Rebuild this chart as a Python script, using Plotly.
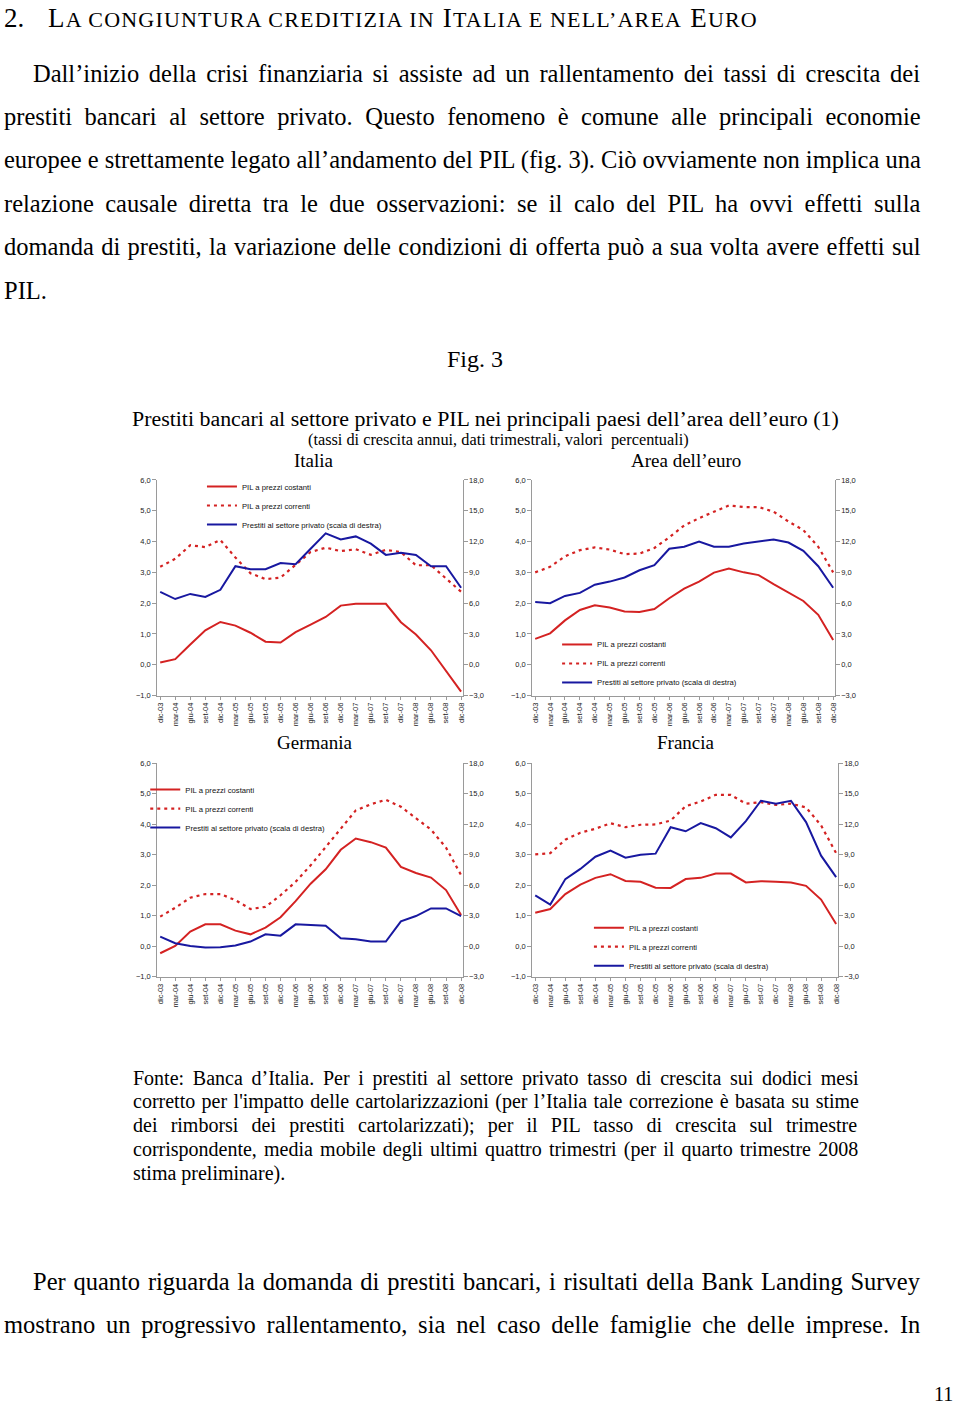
import plotly.graph_objects as go

W, H = 960, 1409

trimestri = ["dic-03", "mar-04", "giu-04", "set-04", "dic-04", "mar-05", "giu-05",
             "set-05", "dic-05", "mar-06", "giu-06", "set-06", "dic-06", "mar-07",
             "giu-07", "set-07", "dic-07", "mar-08", "giu-08", "set-08", "dic-08"]

# Italia
ita_pil_cost = [0.07, 0.18, 0.66, 1.12, 1.39, 1.27, 1.04, 0.75, 0.72, 1.06, 1.30,
                1.55, 1.92, 1.98, 1.98, 1.98, 1.38, 0.98, 0.47, -0.19, -0.87]
ita_pil_corr = [3.18, 3.44, 3.88, 3.82, 4.05, 3.48, 2.97, 2.78, 2.83, 3.26, 3.66,
                3.80, 3.69, 3.75, 3.57, 3.73, 3.66, 3.23, 3.23, 2.80, 2.37]
ita_prestiti = [7.1, 6.4, 6.9, 6.6, 7.3, 9.6, 9.3, 9.3, 9.9, 9.8, 11.3,
                12.8, 12.2, 12.5, 11.8, 10.7, 10.9, 10.7, 9.6, 9.6, 7.5]

# Area dell'euro
eur_pil_cost = [0.84, 1.02, 1.44, 1.78, 1.93, 1.86, 1.73, 1.71, 1.81, 2.16, 2.47,
                2.70, 2.99, 3.12, 3.00, 2.91, 2.62, 2.34, 2.07, 1.62, 0.80]
eur_pil_corr = [3.00, 3.18, 3.52, 3.72, 3.81, 3.74, 3.59, 3.61, 3.79, 4.14, 4.52,
                4.76, 4.97, 5.17, 5.12, 5.12, 4.97, 4.65, 4.37, 3.83, 3.00]
eur_prestiti = [6.1, 6.0, 6.7, 7.0, 7.8, 8.1, 8.5, 9.2, 9.7, 11.3, 11.5,
                12.0, 11.5, 11.5, 11.8, 12.0, 12.2, 11.9, 11.1, 9.6, 7.5]

# Germania
ger_pil_cost = [-0.23, 0.01, 0.48, 0.72, 0.72, 0.51, 0.39, 0.61, 0.95, 1.48, 2.05,
                2.52, 3.16, 3.53, 3.41, 3.23, 2.60, 2.40, 2.25, 1.84, 1.02]
ger_pil_corr = [0.97, 1.26, 1.59, 1.71, 1.71, 1.51, 1.22, 1.29, 1.67, 2.11, 2.65,
                3.25, 3.85, 4.45, 4.65, 4.80, 4.57, 4.18, 3.82, 3.23, 2.33]
ger_prestiti = [0.95, 0.30, 0.03, -0.13, -0.10, 0.07, 0.46, 1.17, 1.04, 2.15, 2.09,
                2.02, 0.78, 0.68, 0.46, 0.46, 2.45, 2.97, 3.72, 3.72, 2.97]

# Francia
fra_pil_cost = [1.10, 1.22, 1.71, 2.02, 2.24, 2.36, 2.14, 2.11, 1.92, 1.91, 2.20,
                2.24, 2.38, 2.38, 2.09, 2.13, 2.11, 2.09, 1.98, 1.53, 0.73]
fra_pil_corr = [3.01, 3.05, 3.49, 3.72, 3.85, 4.03, 3.90, 3.98, 3.99, 4.12, 4.59,
                4.74, 4.96, 4.96, 4.67, 4.72, 4.63, 4.67, 4.55, 3.96, 3.05]
fra_prestiti = [5.0, 4.1, 6.6, 7.6, 8.8, 9.4, 8.7, 9.0, 9.1, 11.7, 11.3,
                12.1, 11.6, 10.7, 12.3, 14.3, 14.0, 14.3, 12.2, 8.9, 6.8]

nomi = ["PIL a prezzi costanti", "PIL a prezzi correnti",
        "Prestiti al settore privato (scala di destra)"]

ROSSO = "#d42222"
BLU = "#1818a0"
GRIGIO = "#9a9a9a"
SERIF = "Liberation Serif, Times New Roman, serif"
SANS = "Liberation Sans Narrow, Arial Narrow, Liberation Sans, Arial, sans-serif"


def px_x(v):
    return v / W


def px_y(v):
    return 1 - v / H


# dati, dominio x (px), dominio y (px), legenda (x, y top) e riquadro bianco della legenda
pannelli = [
    ((ita_pil_cost, ita_pil_corr, ita_prestiti), (156, 463), (479, 696), (201, 471), (212, 393, 485, 530)),
    ((eur_pil_cost, eur_pil_corr, eur_prestiti), (533, 837), (479, 696), (558, 630), (568, 750, 645, 690)),
    ((ger_pil_cost, ger_pil_corr, ger_prestiti), (156, 463), (764, 979), (144, 776), (157, 330, 780, 840)),
    ((fra_pil_cost, fra_pil_corr, fra_prestiti), (533, 840), (764, 979), (590, 915), (588, 797, 925, 972)),
]

fig = go.Figure()
layout = {}
tick_font = dict(family=SANS, size=7.5, color="#222")

for i, (serie, dx, dy, leg, box) in enumerate(pannelli, start=1):
    xa = "x" if i == 1 else f"x{i}"
    yl = "y" if i == 1 else f"y{2 * i - 1}"
    yr = f"y{2 * i}"
    lg = "legend" if i == 1 else f"legend{i}"
    cost, corr, prest = serie

    fig.add_trace(go.Scatter(x=trimestri, y=cost, name=nomi[0], mode="lines",
                             line=dict(color=ROSSO, width=2), xaxis=xa, yaxis=yl, legend=lg))
    fig.add_trace(go.Scatter(x=trimestri, y=corr, name=nomi[1], mode="lines",
                             line=dict(color=ROSSO, width=2.2, dash="3px,4px"),
                             xaxis=xa, yaxis=yl, legend=lg))
    fig.add_trace(go.Scatter(x=trimestri, y=prest, name=nomi[2], mode="lines",
                             line=dict(color=BLU, width=2), xaxis=xa, yaxis=yr, legend=lg))

    kx = "xaxis" if i == 1 else f"xaxis{i}"
    kyl = "yaxis" if i == 1 else f"yaxis{2 * i - 1}"
    kyr = f"yaxis{2 * i}"
    kyg = f"yaxis{8 + i}"
    dom_y = [px_y(dy[1]), px_y(dy[0])]
    layout[kx] = dict(domain=[px_x(dx[0]), px_x(dx[1])], anchor=yl, type="category",
                      range=[-0.2, 20.1], tickangle=-90, showgrid=False,
                      showline=True, linecolor=GRIGIO, linewidth=1,
                      ticks="outside", ticklen=3, tickcolor=GRIGIO, tickfont=tick_font)
    layout[kyl] = dict(domain=dom_y, anchor=xa, range=[-1, 6],
                       dtick=1, tick0=0, tickformat=".1f", showgrid=False, zeroline=False,
                       showline=True, linecolor=GRIGIO, linewidth=1,
                       ticks="outside", ticklen=4, tickcolor=GRIGIO, tickfont=tick_font)
    layout[kyr] = dict(domain=dom_y, anchor=xa, overlaying=yl,
                       side="right", range=[-3, 18], dtick=3, tick0=0,
                       tickformat=".1f", showgrid=False, zeroline=False,
                       showline=True, linecolor=GRIGIO, linewidth=1,
                       ticks="outside", ticklen=4, tickcolor=GRIGIO, tickfont=tick_font)
    # griglia orizzontale senza la linea superiore a 6,0
    layout[kyg] = dict(domain=dom_y, anchor=xa, overlaying=yl, range=[-1, 6],
                       tickvals=[0, 1, 2, 3, 4, 5], showticklabels=False, ticks="",
                       showgrid=True, gridcolor=GRIGIO, gridwidth=1, zeroline=False,
                       showline=False)
    layout[lg] = dict(x=px_x(leg[0]), y=px_y(leg[1]), xanchor="left", yanchor="top",
                      bgcolor="rgba(255,255,255,0)", borderwidth=0,
                      font=dict(family=SANS, size=7.7, color="#111"),
                      itemwidth=30, tracegroupgap=0)
    # riquadro bianco dietro la legenda: interrompe la griglia ma non le linee
    fig.add_shape(type="rect", xref="paper", yref="paper", layer="between",
                  x0=px_x(box[0]), x1=px_x(box[1]), y0=px_y(box[3]), y1=px_y(box[2]),
                  fillcolor="white", line_width=0)

fig.update_layout(**layout)


def testo(x, y, s, size, xanchor="left", family=SERIF, yanchor="middle"):
    fig.add_annotation(x=px_x(x), y=px_y(y), xref="paper", yref="paper", text=s,
                       showarrow=False, xanchor=xanchor, yanchor=yanchor,
                       font=dict(family=family, size=size, color="black"))


def giustifica(s, ws):
    if ws == 0:
        return s
    return f"<span style='word-spacing:{ws}px'>{s}</span>"


# titolo in maiuscoletto
sc = "<span style='font-size:22px'>"
testo(0, -3, "2.", 27, yanchor="top")
testo(44, -3, "<span style='letter-spacing:1.2px'>L" + sc + "A CONGIUNTURA CREDITIZIA IN</span> I" + sc
      + "TALIA E NELL\u2019AREA</span> E" + sc + "URO</span></span>", 27, yanchor="top")

paragrafo = [
    (29, 70, 3.6, "Dall\u2019inizio della crisi finanziaria si assiste ad un rallentamento dei tassi di crescita dei"),
    (0, 113, 6.4, "prestiti bancari al settore privato. Questo fenomeno è comune alle principali economie"),
    (0, 157, 0, "europee e strettamente legato all\u2019andamento del PIL (fig. 3). Ciò ovviamente non implica una"),
    (0, 201, 5.35, "relazione causale diretta tra le due osservazioni: se il calo del PIL ha ovvi effetti sulla"),
    (0, 244, 1.2, "domanda di prestiti, la variazione delle condizioni di offerta può a sua volta avere effetti sul"),
    (0, 288, 0, "PIL."),
]
for x, y, ws, s in paragrafo:
    testo(x, y, giustifica(s, ws), 24.5)

testo(475, 357, "Fig. 3", 24, "center")
testo(486, 417, "Prestiti bancari al settore privato e PIL nei principali paesi dell\u2019area dell\u2019euro (1)", 21.9, "center")
testo(499, 438, "(tassi di crescita annui, dati trimestrali, valori  percentuali)", 16.3, "center")
testo(314, 459, "Italia", 19, "center")
testo(688, 459, "Area dell\u2019euro", 19, "center")
testo(314, 743, "Germania", 19, "center")
testo(688, 743, "Francia", 19, "center")

nota = [
    (1081, 3.7, "Fonte: Banca d\u2019Italia. Per i prestiti al settore privato tasso di crescita sui dodici mesi"),
    (1105, 1.43, "corretto per l'impatto delle cartolarizzazioni (per l\u2019Italia tale correzione è basata su stime"),
    (1129, 8.2, "dei rimborsi dei prestiti cartolarizzati); per il PIL tasso di crescita sul trimestre"),
    (1153, 2.2, "corrispondente, media mobile degli ultimi quattro trimestri (per il quarto trimestre 2008"),
    (1177, 0, "stima preliminare)."),
]
for y, ws, s in nota:
    testo(130, y, giustifica(s, ws), 20)

testo(29, 1286, giustifica("Per quanto riguarda la domanda di prestiti bancari, i risultati della Bank Landing Survey", 1.65), 24.5)
testo(0, 1329, giustifica("mostrano un progressivo rallentamento, sia nel caso delle famiglie che delle imprese. In", 4.7), 24.5)
testo(958, 1399, "11", 20, "right")

fig.update_layout(width=W, height=H, margin=dict(l=0, r=0, t=0, b=0),
                  paper_bgcolor="white", plot_bgcolor="white",
                  separators=",.", showlegend=True)

fig.write_html("out.html", config={"displayModeBar": False},
               post_script="document.body.style.margin='0';")
